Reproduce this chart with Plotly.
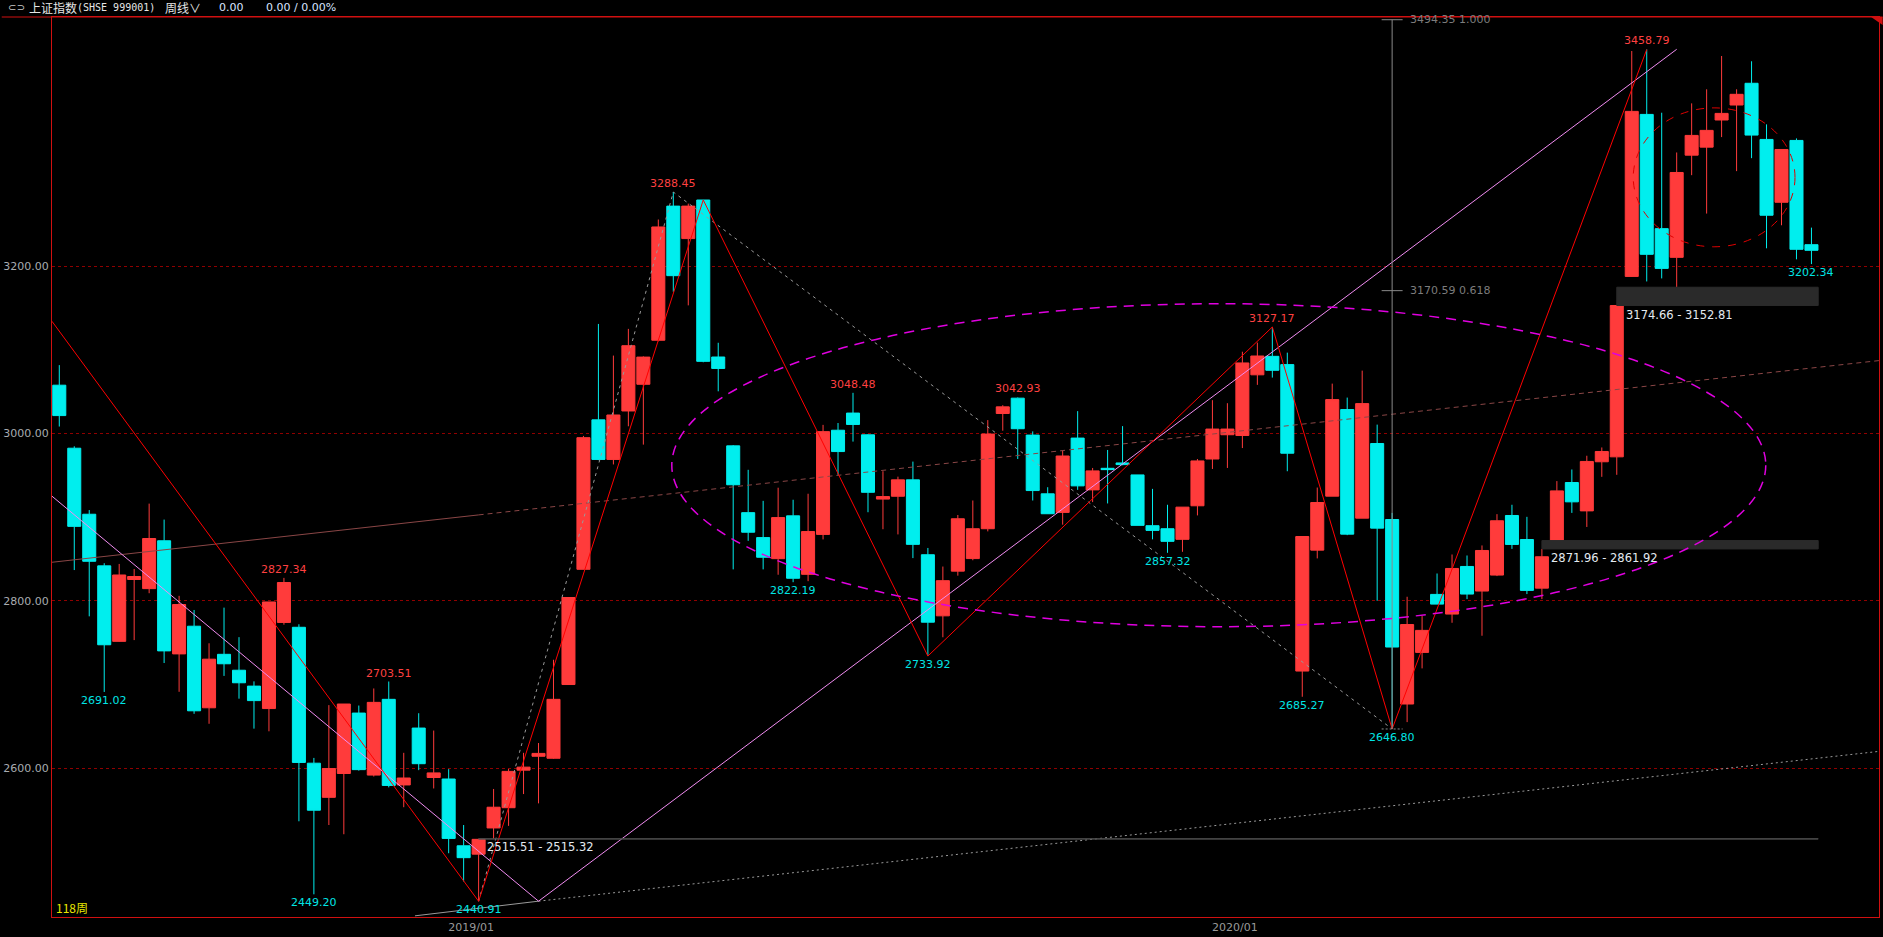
import plotly.graph_objects as go

# Weekly candles of 上证指数 (SHSE 999001), 118 weeks, index 0..117
week_idx = list(range(118))

open_px = [
    3057.6, 2982.3, 2903.4, 2841.7, 2751.5, 2825.4, 2814.5, 2871.7, 2736.5, 2769.6,
    2672.1, 2736.0, 2717.0, 2698.0, 2671.2, 2774.1, 2768.3, 2605.9, 2565.1, 2593.6,
    2665.8, 2591.7, 2682.2, 2579.9, 2647.9, 2588.8, 2587.0, 2507.2, 2497.2, 2528.5,
    2552.7, 2597.6, 2614.2, 2611.8, 2699.9, 2837.6, 3016.2, 2968.9, 3026.8, 3058.7,
    3111.3, 3271.6, 3232.8, 3278.9, 3091.3, 2985.1, 2905.3, 2875.5, 2850.3, 2901.5,
    2831.6, 2879.3, 3003.8, 3024.3, 2998.3, 2921.5, 2924.9, 2944.5, 2855.0, 2782.0,
    2835.4, 2850.4, 2886.1, 3023.8, 3042.1, 2998.0, 2927.8, 2905.6, 2994.4, 2932.5,
    2958.3, 2964.7, 2950.4, 2889.7, 2886.1, 2873.4, 2913.5, 2969.4, 2998.4, 2997.5,
    3070.0, 3092.1, 3082.2, 2716.0, 2860.5, 2925.0, 3028.5, 2898.7, 2987.9, 2897.1,
    2676.6, 2738.3, 2807.6, 2784.1, 2841.0, 2811.6, 2830.7, 2901.9, 2873.2, 2815.1,
    2871.96, 2941.3, 2907.4, 2966.1, 2972.0, 3187.6, 3381.2, 3244.7, 3210.4, 3332.5,
    3342.1, 3374.5, 3392.4, 3418.4, 3351.3, 3276.2, 3350.1, 3225.5,
]
high_px = [
    3081.6, 2984.6, 2908.4, 2844.9, 2844.0, 2838.0, 2916.1, 2897.0, 2805.9, 2789.0,
    2749.2, 2791.8, 2756.5, 2703.7, 2798.6, 2827.34, 2771.9, 2612.2, 2675.3, 2676.6,
    2674.8, 2695.2, 2703.51, 2618.3, 2665.6, 2644.9, 2598.8, 2532.0, 2515.51, 2575.1,
    2599.0, 2618.3, 2630.0, 2729.5, 2803.9, 2997.0, 3130.8, 3093.0, 3124.9, 3092.0,
    3255.6, 3288.45, 3274.6, 3279.0, 3108.3, 2986.0, 2956.5, 2919.4, 2935.1, 2920.7,
    2927.9, 3010.2, 3012.4, 3048.48, 2999.0, 2954.8, 2948.3, 2966.3, 2863.1, 2840.9,
    2902.5, 2919.8, 3015.9, 3033.7, 3042.93, 3002.4, 2935.7, 2979.4, 3026.6, 2958.7,
    2980.2, 3008.7, 2950.4, 2933.7, 2914.7, 2911.9, 2969.4, 3039.7, 3036.1, 3097.6,
    3108.5, 3127.17, 3096.5, 2876.8, 2935.3, 3059.5, 3042.8, 3075.0, 3010.5, 2905.0,
    2804.8, 2781.7, 2832.6, 2855.3, 2854.1, 2866.1, 2903.5, 2914.7, 2900.3, 2861.92,
    2943.0, 2956.9, 2973.3, 2983.2, 3152.81, 3456.97, 3458.79, 3383.2, 3335.7, 3394.4,
    3411.2, 3451.0, 3411.2, 3444.7, 3369.3, 3339.3, 3352.5, 3245.9,
]
low_px = [
    3008.2, 2836.7, 2781.4, 2691.02, 2751.0, 2753.0, 2809.0, 2725.6, 2691.2, 2664.9,
    2653.0, 2710.2, 2683.0, 2647.2, 2644.0, 2771.4, 2536.5, 2449.20, 2532.0, 2521.0,
    2597.0, 2590.0, 2577.0, 2553.3, 2597.6, 2575.7, 2498.3, 2464.6, 2440.91, 2515.32,
    2531.0, 2569.0, 2557.9, 2611.0, 2699.9, 2837.6, 2968.0, 2962.9, 3008.5, 2986.6,
    3110.0, 3169.3, 3153.0, 3085.0, 3050.3, 2837.5, 2871.6, 2837.5, 2831.1, 2822.19,
    2823.4, 2873.3, 2950.5, 2990.2, 2905.8, 2885.5, 2879.3, 2851.0, 2733.92, 2756.4,
    2830.0, 2848.4, 2882.9, 3003.2, 2969.4, 2919.8, 2904.0, 2890.9, 2932.5, 2917.9,
    2916.3, 2962.0, 2890.1, 2873.4, 2857.32, 2858.5, 2902.0, 2957.5, 2958.7, 2982.5,
    3058.0, 3066.7, 2954.8, 2685.27, 2850.6, 2925.0, 2878.4, 2898.7, 2800.0, 2646.80,
    2655.0, 2719.2, 2796.0, 2773.7, 2802.0, 2758.2, 2829.5, 2862.0, 2808.0, 2802.0,
    2871.96, 2905.0, 2888.2, 2948.1, 2950.5, 3187.0, 3181.6, 3185.2, 3174.66, 3308.6,
    3262.7, 3354.1, 3313.4, 3328.9, 3221.2, 3248.7, 3208.0, 3202.34,
]
close_px = [
    3021.3, 2888.9, 2847.2, 2747.4, 2830.8, 2829.0, 2874.4, 2740.1, 2795.5, 2668.5,
    2730.2, 2724.7, 2702.0, 2680.7, 2798.6, 2821.8, 2606.8, 2549.7, 2599.5, 2676.6,
    2598.2, 2678.6, 2579.3, 2588.2, 2605.3, 2594.3, 2516.0, 2493.0, 2514.9, 2553.3,
    2596.1, 2601.2, 2617.6, 2682.2, 2803.9, 2994.9, 2968.9, 3022.0, 3104.8, 3091.2,
    3246.7, 3188.5, 3271.6, 3086.1, 3077.6, 2938.6, 2881.9, 2852.0, 2899.4, 2826.9,
    2882.7, 3002.1, 2978.3, 3010.7, 2929.6, 2924.5, 2944.5, 2867.4, 2774.4, 2824.0,
    2898.0, 2886.1, 2999.2, 3031.7, 3005.6, 2931.7, 2904.0, 2973.0, 2937.3, 2955.2,
    2956.7, 2962.7, 2890.1, 2884.1, 2871.0, 2911.9, 2967.1, 3005.2, 3005.2, 3084.2,
    3092.5, 3075.4, 2976.3, 2876.8, 2917.4, 3040.4, 2879.6, 3035.6, 2886.8, 2744.7,
    2771.6, 2764.6, 2796.0, 2838.6, 2808.0, 2860.1, 2895.6, 2867.3, 2812.4, 2852.6,
    2931.3, 2918.2, 2966.5, 2978.4, 3152.81, 3384.8, 3214.0, 3197.2, 3311.8, 3356.1,
    3362.1, 3382.4, 3405.2, 3356.5, 3260.7, 3339.3, 3220.0, 3218.8,
]

# axis ticks
y_ticks = [2600, 2800, 3000, 3200]
y_tick_text = ["2600.00", "2800.00", "3000.00", "3200.00"]
x_ticks = [27.5, 78.5]
x_tick_text = ["2019/01", "2020/01"]

# marked swing highs / lows (candle index)
high_marks = [15, 22, 41, 53, 64, 81, 106]
low_marks = [3, 17, 28, 49, 58, 74, 83, 89, 117]

# drawn lines (candle index, price)
zig_red_x = [-0.49, 28, 43, 58, 81, 89, 106]
zig_red_y = [3134, 2440.91, 3279.0, 2733.92, 3127.17, 2646.80, 3458.79]
zig_pink_x = [-0.49, 32, 108]
zig_pink_y = [2925, 2441, 3459]
zig_gray_x = [28, 41, 89]
zig_gray_y = [2440.91, 3288.45, 2646.80]
trend_brown_x = [-0.49, 28, 121.5]
trend_brown_y = [2846, 2902.6, 3087]
trend_low_x = [23.75, 32, 121.5]
trend_low_y = [2423.5, 2441, 2620]

# fibonacci marker
fib_x = 89
fib_base = 2646.80
fib_levels = [3494.35, 3170.59]
fib_ratios = ["1.000", "0.618"]

# gap boxes
gap_start = [104, 99, 28]
gap_low = [3152.81, 2861.92, 2515.32]
gap_high = [3174.66, 2871.96, 2515.51]
gap_end = 117.45

# ellipses: x0, x1, y0, y1
ellipse_big = [40.9, 113.95, 2769, 3155]
ellipse_small = [105.1, 115.9, 3223, 3389]

UP = "#ff3b3b"
DOWN = "#00eeee"
GRAY = "#8a8a8a"
NUM_FONT = "DejaVu Sans"
CJK_FONT = "Noto Sans CJK SC"

fig = go.Figure()

# candles
fig.add_trace(go.Candlestick(
    x=week_idx, open=open_px, high=high_px, low=low_px, close=close_px,
    increasing=dict(line=dict(color=UP, width=1), fillcolor=UP),
    decreasing=dict(line=dict(color=DOWN, width=1), fillcolor=DOWN),
    whiskerwidth=0, hoverinfo="skip", showlegend=False))

# trend lines
fig.add_trace(go.Scatter(x=trend_brown_x[:2], y=trend_brown_y[:2], mode="lines",
                         line=dict(color="#8a4646", width=1)))
fig.add_trace(go.Scatter(x=trend_brown_x[1:], y=trend_brown_y[1:], mode="lines",
                         line=dict(color="#8a4646", width=1, dash="5px,4px")))
fig.add_trace(go.Scatter(x=trend_low_x[:2], y=trend_low_y[:2], mode="lines",
                         line=dict(color="#9a9a9a", width=1)))
fig.add_trace(go.Scatter(x=trend_low_x[1:], y=trend_low_y[1:], mode="lines",
                         line=dict(color="#9a9a9a", width=1, dash="2px,3px")))

# zigzags
fig.add_trace(go.Scatter(x=zig_gray_x, y=zig_gray_y, mode="lines",
                         line=dict(color="#9a9a9a", width=1, dash="3px,4px")))
fig.add_trace(go.Scatter(x=zig_pink_x, y=zig_pink_y, mode="lines",
                         line=dict(color="#f08cf0", width=1)))
fig.add_trace(go.Scatter(x=zig_red_x, y=zig_red_y, mode="lines",
                         line=dict(color="#ff0000", width=1)))

# fibonacci vertical + level ticks
fig.add_trace(go.Scatter(x=[fib_x, fib_x], y=[fib_base, fib_levels[0]], mode="lines",
                         line=dict(color=GRAY, width=1)))
tick_x, tick_y = [], []
for lv in fib_levels:
    tick_x += [fib_x - 0.7, fib_x + 0.7, None]
    tick_y += [lv, lv, None]
fig.add_trace(go.Scatter(x=tick_x, y=tick_y, mode="lines", line=dict(color=GRAY, width=1)))
fig.add_trace(go.Scatter(x=[fib_x - 0.7, fib_x + 0.7], y=[fib_base, fib_base], mode="lines",
                         line=dict(color=GRAY, width=1, dash="2px,2px")))
for lv, r in zip(fib_levels, fib_ratios):
    fig.add_annotation(x=fib_x + 1.05, y=lv, text=f"{lv:.2f} {r}", showarrow=False,
                       xanchor="left", yanchor="middle",
                       font=dict(family=NUM_FONT, size=11, color="#7c7c7c"))

# gap boxes
for x0, lo, hi in zip(gap_start, gap_low, gap_high):
    thin = (hi - lo) < 1
    fig.add_shape(type="rect", xref="x", yref="y", x0=x0, x1=gap_end, y0=lo, y1=hi,
                  fillcolor="#2a2a2a", line=dict(color="#505050" if thin else "#2a2a2a", width=1),
                  layer="above")
    fig.add_annotation(x=x0 + 0.45, y=lo, text=f"{hi:.2f} - {lo:.2f}", showarrow=False,
                       xanchor="left", yanchor="top", yshift=0 if not thin else 1,
                       font=dict(family=NUM_FONT, size=11.5, color="#e4eaf0"))

# ellipses
fig.add_shape(type="circle", xref="x", yref="y",
              x0=ellipse_big[0], x1=ellipse_big[1], y0=ellipse_big[2], y1=ellipse_big[3],
              line=dict(color="#e000e0", width=1.5, dash="10px,7px"), layer="above")
fig.add_shape(type="circle", xref="x", yref="y",
              x0=ellipse_small[0], x1=ellipse_small[1], y0=ellipse_small[2], y1=ellipse_small[3],
              line=dict(color="#e00000", width=1, dash="8px,8px"), layer="above")

# swing labels
for i in high_marks:
    fig.add_annotation(x=i, y=high_px[i], text=f"{high_px[i]:.2f}", showarrow=False,
                       yanchor="bottom", yshift=0,
                       font=dict(family=NUM_FONT, size=11, color="#ff4040"))
for i in low_marks:
    fig.add_annotation(x=i, y=low_px[i], text=f"{low_px[i]:.2f}", showarrow=False,
                       yanchor="top", yshift=0,
                       font=dict(family=NUM_FONT, size=11, color="#00e5e5"))

# header line
header = [
    (-0.025, "⊂⊃", "DejaVu Sans", 10, "#c8c8c8"),
    (-0.0135, "上证指数", CJK_FONT, 12, "#e6e6e6"),
    (0.0125, "(SHSE 999001)", "DejaVu Sans Mono", 10, "#e6e6e6"),
    (0.061, "周线∨", CJK_FONT, 12, "#e6e6e6"),
    (0.0905, "0.00", NUM_FONT, 11, "#d8e4ff"),
    (0.1158, "0.00 / 0.00%", NUM_FONT, 11, "#d8e4ff"),
]
for hx, txt, fam, sz, col in header:
    fig.add_annotation(xref="paper", yref="paper", x=hx, y=1.0105, text=txt, showarrow=False,
                       xanchor="left", yanchor="middle", font=dict(family=fam, size=sz, color=col))

fig.add_annotation(xref="paper", yref="paper", x=0.001, y=0.011, text="118周", showarrow=False,
                   xanchor="left", yanchor="middle", font=dict(family=CJK_FONT, size=12, color="#e8e800"))

# frame
fig.add_shape(type="line", xref="paper", yref="paper", x0=-0.0275, x1=1.002, y0=1, y1=1,
              line=dict(color="#d01010", width=1))
fig.add_shape(type="path", xref="paper", yref="paper",
              path="M 0.9957 1 L 1.002 1 L 1.002 0.991 Z", fillcolor="#d01010", line=dict(width=0))

fig.update_layout(
    width=1883, height=937,
    margin=dict(l=50, r=3, t=17, b=18),
    paper_bgcolor="#000000", plot_bgcolor="#000000",
    showlegend=False, hovermode=False,
    boxgap=0.13, boxgroupgap=0,
)
fig.update_xaxes(range=[-0.487, 121.51], rangeslider_visible=False,
                 showgrid=False, zeroline=False,
                 tickvals=x_ticks, ticktext=x_tick_text, ticks="",
                 tickfont=dict(family=NUM_FONT, size=11, color="#9a9a9a"),
                 showline=True, linecolor="#d01010", linewidth=1, mirror=True)
fig.update_yaxes(range=[2422.1, 3497.6],
                 tickvals=y_ticks, ticktext=y_tick_text, ticks="",
                 tickfont=dict(family=NUM_FONT, size=11, color="#a8acb0"),
                 showgrid=True, gridcolor="#900000", gridwidth=1, griddash="3px,3px",
                 zeroline=False,
                 showline=True, linecolor="#d01010", linewidth=1, mirror=True)

fig.write_html("out.html", config={"displayModeBar": False},
               post_script="document.body.style.margin='0';")
